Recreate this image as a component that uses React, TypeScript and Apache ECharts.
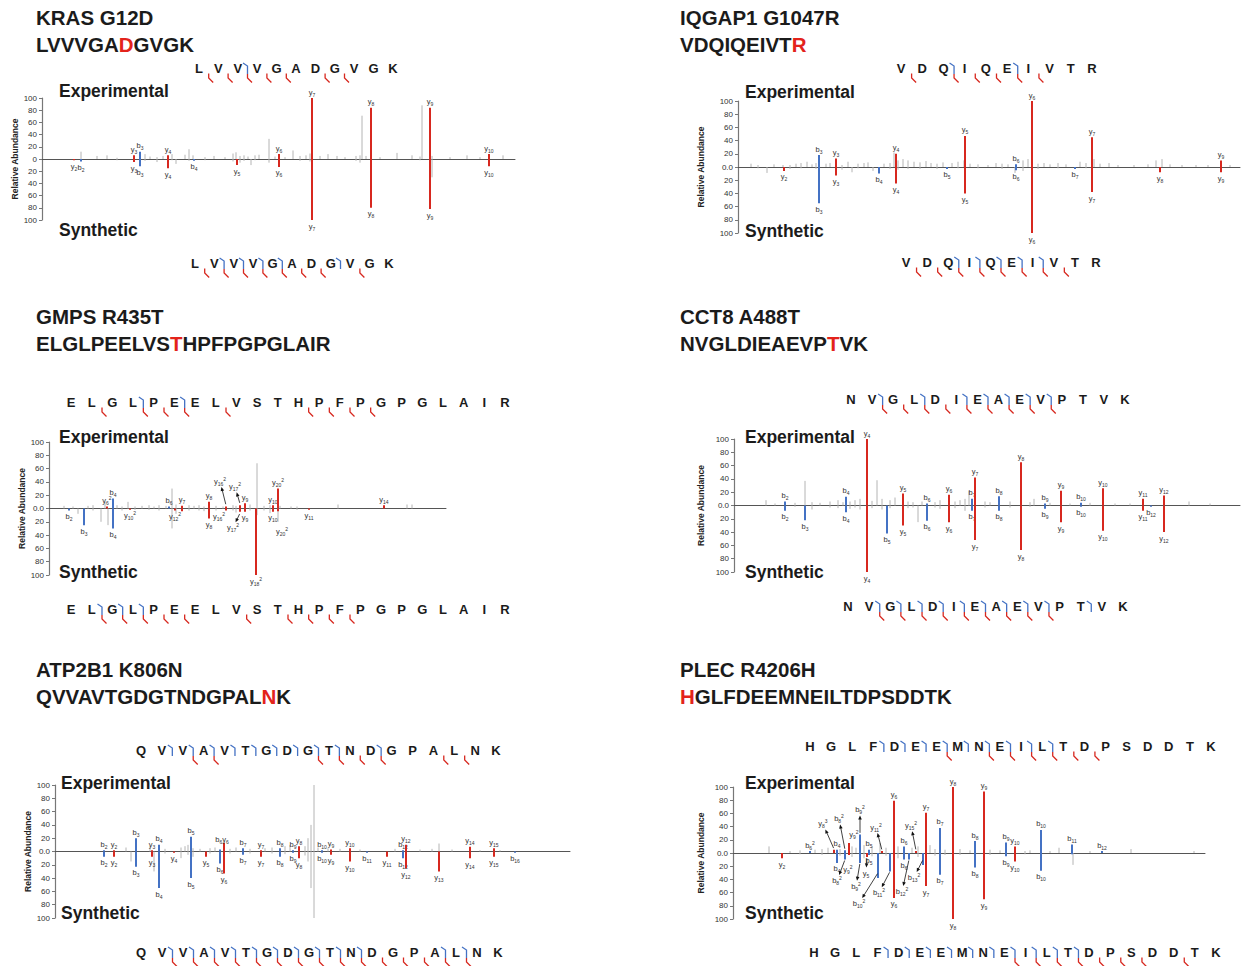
import React, { useEffect, useRef } from 'react';
import * as echarts from 'echarts';

const FONT = '"Liberation Sans", Arial, Helvetica, sans-serif';
const RED = '#d7281f';
const BLUE = '#4472c4';
const GREY = '#b4b4b4';
const INK = '#1b1b1b';

// ---------------- data ----------------
// ions: [position, experimental %, synthetic %, label, labelFlags(1 exp,2 syn,3 both,0 none)]
// noise: [position, experimental %, synthetic %]
// callouts: [labelPos, labelValue, tipPos, tipValue, label, arrow]

const krasTitle = 'KRAS G12D';
const krasPeptide = 'LVVVGADGVGK';
const krasMut = 6;
const krasExpB = [3];
const krasExpY = [1, 2, 3, 4, 5, 7, 8];
const krasSynB = [2, 3, 4, 5, 8];
const krasSynY = [1, 2, 3, 4, 5, 6, 7, 9];
const krasIons = [
  [32, 0, 2, 'y2', 2], [39, 0, 4, 'b2', 2], [92, 6, 5, 'y3', 3], [98, 12, 12, 'b3', 3],
  [126, 6, 15, 'y4', 3], [152, 0, 3, 'b4', 2], [195, 0, 10, 'y5', 2], [237, 8, 13, 'y6', 3],
  [270, 100, 100, 'y7', 3], [329, 84, 80, 'y8', 3], [388, 84, 82, 'y9', 3], [447, 8, 12, 'y10', 3],
];
const krasNoise = [
  [39, 12, 0], [55, 5, 0], [65, 6, 0], [75, 2, 2], [103, 8, 3], [108, 4, 0], [115, 3, 5], [121, 5, 0],
  [130, 8, 2], [134, 0, 8], [143, 7, 0], [147, 16, 3], [151, 6, 0], [163, 3, 2], [172, 5, 0], [183, 3, 0],
  [191, 9, 4], [194, 11, 0], [198, 5, 6], [202, 6, 3], [206, 4, 0], [209, 0, 10], [213, 6, 2], [217, 7, 0],
  [227, 33, 6], [233, 4, 0], [243, 3, 0], [251, 14, 0], [258, 5, 3], [264, 6, 0], [268, 9, 4], [278, 5, 0],
  [286, 8, 0], [295, 5, 0], [303, 3, 0], [314, 5, 3], [318, 6, 6], [320, 71, 0], [324, 5, 0], [329, 20, 10],
  [338, 3, 0], [355, 10, 0], [370, 6, 0], [378, 4, 2], [380, 88, 0], [390, 5, 30], [408, 3, 0], [425, 6, 0],
  [438, 3, 0], [461, 6, 0],
];
const krasCallouts: any[] = [];

const iqTitle = 'IQGAP1 G1047R';
const iqPeptide = 'VDQIQEIVTR';
const iqMut = 9;
const iqExpB = [3, 6];
const iqExpY = [1, 3, 4, 5, 6, 7];
const iqSynB = [3, 4, 5, 6, 7];
const iqSynY = [1, 2, 3, 4, 5, 6, 7, 8];
const iqIons = [
  [46, 0, 6, 'y2', 2], [81, 18, 55, 'b3', 3], [98, 13, 13, 'y3', 3], [141, 0, 10, 'b4', 2],
  [158, 20, 25, 'y4', 3], [209, 0, 3, 'b5', 2], [227, 47, 40, 'y5', 3], [278, 4, 5, 'b6', 3],
  [294, 100, 100, 'y6', 3], [337, 0, 3, 'b7', 2], [354, 45, 38, 'y7', 3], [422, 0, 8, 'y8', 2],
  [483, 10, 8, 'y9', 3],
];
const iqNoise = [
  [13, 5, 0], [20, 3, 2], [29, 0, 9], [36, 4, 0], [45, 3, 0], [52, 3, 3], [58, 5, 0], [63, 6, 2],
  [69, 8, 0], [74, 4, 0], [78, 6, 3], [88, 5, 0], [92, 6, 0], [104, 3, 4], [110, 8, 0], [114, 0, 8],
  [120, 5, 2], [126, 6, 0], [130, 7, 0], [135, 0, 6], [146, 5, 0], [152, 6, 3], [156, 22, 0], [160, 10, 4],
  [165, 12, 0], [170, 10, 3], [176, 8, 0], [182, 7, 3], [188, 9, 0], [193, 6, 0], [199, 5, 3], [205, 7, 0],
  [214, 6, 0], [220, 8, 2], [226, 10, 0], [232, 5, 0], [240, 4, 2], [250, 3, 0], [258, 6, 0], [264, 5, 3],
  [270, 4, 0], [277, 0, 9], [285, 10, 6], [290, 12, 0], [300, 5, 3], [306, 6, 0], [312, 4, 0], [320, 6, 2],
  [328, 4, 0], [342, 8, 0], [348, 6, 2], [356, 12, 0], [362, 5, 0], [371, 6, 0], [380, 3, 0], [396, 3, 0],
  [410, 4, 0], [418, 10, 0], [424, 12, 0], [432, 4, 0], [444, 3, 0], [458, 3, 0], [470, 3, 0], [492, 3, 0],
];
const iqCallouts: any[] = [];

const gmpsTitle = 'GMPS R435T';
const gmpsPeptide = 'ELGLPEELVSTHPFPGPGLAIR';
const gmpsMut = 10;
const gmpsExpB = [4, 6];
const gmpsExpY = [2, 4, 5, 6, 8, 12, 13, 14, 15];
const gmpsSynB = [2, 3, 4];
const gmpsSynY = [2, 3, 4, 5, 6, 9, 11, 12, 13, 14];
const gmpsIons = [
  [20, 0, 3, 'b2', 2], [35, 0, 25, 'b3', 2], [58, 3, 0, 'y6^2', 1], [64, 15, 30, 'b4', 3],
  [81, 0, 2, 'y10^2', 2], [120, 3, 0, 'b6', 1], [126, 0, 3, 'y12^2', 2], [133, 4, 4, 'y7', 1],
  [160, 10, 15, 'y8', 3], [177, 3, 3, 'y16^2', 0], [191, 5, 5, 'y17^2', 0], [196, 8, 5, 'y9', 3],
  [207, 0, 100, 'y18^2', 2], [224, 5, 5, 'y10', 3], [229, 30, 4, 'y20^2', 1], [260, 0, 2, 'y11', 2],
  [335, 5, 0, 'y14', 1],
];
const gmpsNoise = [
  [15, 4, 0], [24, 3, 0], [29, 0, 8], [39, 4, 0], [44, 5, 3], [52, 0, 20], [56, 10, 0], [59, 0, 25],
  [68, 5, 0], [73, 3, 3], [79, 10, 0], [86, 3, 2], [93, 4, 0], [100, 5, 2], [105, 3, 0], [110, 5, 3],
  [117, 4, 0], [123, 30, 30], [127, 6, 8], [140, 5, 3], [145, 4, 0], [150, 5, 3], [155, 3, 4], [167, 4, 3],
  [174, 3, 0], [184, 5, 3], [187, 4, 6], [201, 6, 3], [208, 68, 10], [215, 4, 3], [221, 5, 7], [229, 4, 20],
  [231, 4, 0], [242, 3, 0], [248, 3, 2], [289, 6, 0], [358, 6, 0], [363, 6, 0],
];
const gmpsCallouts = [
  [171, 41, 177, 5, 'y16^2', 1], [186, 33, 191, 7, 'y17^2', 1], [170, -12, 177, -4, 'y16^2', 0],
  [184, -29, 191, -7, 'y17^2', 1], [233, -34, 229, -5, 'y20^2', 0],
];

const cctTitle = 'CCT8 A488T';
const cctPeptide = 'NVGLDIEAEVPTVK';
const cctMut = 11;
const cctExpB = [2, 4, 6, 7, 8, 9, 10];
const cctExpY = [2, 3, 4, 5, 6, 7, 8, 9, 10];
const cctSynB = [2, 3, 4, 5, 6, 7, 8, 9, 10, 12];
const cctSynY = [2, 3, 4, 5, 6, 7, 8, 9, 10];
const cctIons = [
  [51, 6, 8, 'b2', 3], [71, 0, 22, 'b3', 2], [112, 13, 10, 'b4', 3], [133, 100, 100, 'y4', 3],
  [153, 0, 42, 'b5', 2], [169, 18, 30, 'y5', 3], [193, 3, 23, 'b6', 3], [215, 16, 25, 'y6', 3],
  [238, 10, 8, 'b7', 3], [241, 42, 52, 'y7', 3], [265, 14, 8, 'b8', 3], [287, 65, 67, 'y8', 3],
  [311, 3, 5, 'b9', 3], [327, 22, 25, 'y9', 3], [347, 4, 2, 'b10', 3], [369, 26, 38, 'y10', 3],
  [409, 10, 8, 'y11', 3], [417, 0, 2, 'b12', 2], [430, 15, 40, 'y12', 3],
];
const cctNoise = [
  [32, 8, 0], [41, 3, 0], [61, 4, 2], [71, 37, 0], [78, 5, 6], [86, 4, 0], [96, 6, 3], [104, 8, 4],
  [109, 5, 0], [116, 6, 5], [121, 8, 3], [126, 10, 6], [138, 7, 4], [143, 38, 0], [148, 10, 6], [156, 8, 4],
  [161, 12, 0], [174, 6, 4], [179, 5, 3], [184, 0, 25], [188, 6, 0], [201, 5, 3], [206, 8, 5], [221, 6, 4],
  [226, 8, 0], [231, 10, 8], [235, 22, 0], [251, 6, 3], [256, 5, 0], [276, 6, 3], [296, 5, 2], [300, 10, 0],
  [316, 4, 0], [336, 3, 0], [356, 4, 0], [381, 3, 0], [396, 3, 0], [455, 6, 0], [476, 3, 0],
];
const cctCallouts: any[] = [];

const atpTitle = 'ATP2B1 K806N';
const atpPeptide = 'QVVAVTGDGTNDGPALNK';
const atpMut = 16;
const atpExpB = [2, 3, 4, 5, 6, 7, 8, 9, 10, 12];
const atpExpY = [3, 4, 9, 10, 11, 12, 15, 16];
const atpSynB = [2, 3, 4, 5, 6, 7, 8, 9, 10, 11, 15, 16];
const atpSynY = [2, 3, 4, 5, 6, 7, 8, 9, 10, 11, 12, 13, 14, 15, 16];
const atpIons = [
  [49, 2, 8, 'b2', 3], [59, 2, 8, 'y2', 3], [81, 20, 23, 'b3', 3], [97, 2, 8, 'y3', 3],
  [104, 10, 55, 'b4', 3], [119, 0, 2, 'y4', 2], [136, 22, 40, 'b5', 3], [151, 0, 8, 'y5', 2],
  [165, 3, 18, 'b6', 2], [169, 13, 33, 'y6', 2], [188, 5, 5, 'b7', 3], [206, 2, 8, 'y7', 3],
  [225, 5, 8, 'b8', 3], [238, 2, 2, 'b9', 3], [244, 8, 10, 'y8', 3], [267, 2, 2, 'b10', 3],
  [276, 3, 5, 'y9', 3], [295, 5, 15, 'y10', 3], [312, 0, 2, 'b11', 2], [332, 0, 8, 'y11', 2],
  [348, 2, 10, 'b12', 3], [351, 10, 25, 'y12', 3], [384, 0, 30, 'y13', 2], [415, 7, 10, 'y14', 3],
  [439, 5, 8, 'y15', 3], [460, 0, 2, 'b16', 2],
];
const atpNoise = [
  [71, 6, 0], [76, 0, 15], [95, 8, 0], [99, 0, 30], [110, 4, 3], [126, 6, 10], [130, 8, 0], [133, 10, 5],
  [138, 5, 8], [145, 4, 0], [155, 5, 3], [160, 6, 0], [175, 4, 3], [181, 6, 0], [195, 4, 3], [210, 5, 0],
  [217, 6, 3], [230, 8, 4], [235, 10, 0], [250, 8, 6], [253, 20, 15], [256, 40, 55], [259, 100, 100],
  [263, 6, 0], [273, 5, 0], [285, 4, 0], [305, 3, 0], [340, 4, 0], [365, 3, 0], [377, 4, 0], [384, 12, 0],
  [397, 3, 0], [425, 2, 0], [445, 2, 0],
];
const atpCallouts = [[167, 18, 167, 13, 'b6y6', 0]];

const plecTitle = 'PLEC R4206H';
const plecPeptide = 'HGLFDEEMNEILTDPSDDTK';
const plecMut = 0;
const plecExpB = [4, 5, 6, 7, 8, 9, 10, 11, 12];
const plecExpY = [7, 9, 10, 11, 12, 13, 14];
const plecSynB = [4, 5, 6, 7, 8, 9, 10, 11, 12, 13];
const plecSynY = [10, 11, 12, 13, 14, 15, 16, 18];
const plecIons = [
  [49, 0, 8, 'y2', 2], [77, 3, 0, 'b6^2', 1], [101, 5, 0, 'y8^3', 0], [104, 5, 15, 'b4', 3],
  [112, 4, 10, 'b8^2', 0], [116, 15, 3, 'y9^2', 0], [127, 28, 15, 'b9^2', 0], [134, 0, 6, 'y5', 0],
  [136, 5, 3, 'b5', 3], [145, 0, 38, 'b10^2', 0], [149, 3, 0, 'y11^2', 0], [157, 0, 28, 'b11^2', 0],
  [161, 79, 68, 'y6', 3], [171, 10, 10, 'b6', 3], [176, 0, 10, 'b12^2', 0], [183, 3, 0, 'y15^2', 0],
  [190, 0, 18, 'b13^2', 0], [193, 61, 50, 'y7', 3], [207, 38, 33, 'b7', 3], [220, 100, 100, 'y8', 3],
  [242, 18, 22, 'b8', 3], [251, 93, 70, 'y9', 3], [273, 16, 5, 'b9', 3], [282, 10, 13, 'y10', 3],
  [308, 35, 27, 'b10', 3], [339, 13, 2, 'b11', 1], [369, 3, 0, 'b12', 1],
];
const plecNoise = [
  [36, 10, 0], [57, 3, 0], [67, 4, 2], [82, 5, 0], [89, 6, 3], [95, 8, 0], [107, 6, 4], [119, 10, 6],
  [123, 8, 0], [131, 12, 8], [139, 10, 5], [147, 15, 0], [153, 8, 4], [165, 10, 8], [179, 8, 0], [185, 10, 6],
  [197, 12, 0], [202, 6, 4], [212, 5, 3], [227, 6, 3], [237, 4, 0], [257, 5, 3], [267, 4, 0], [292, 3, 2],
  [297, 4, 0], [317, 3, 0], [326, 8, 0], [340, 0, 18], [357, 3, 0], [398, 6, 0], [461, 3, 0],
];
const plecCallouts = [
  [90, 44, 101, 6, 'y8^3', 1], [106, 52, 112, 5, 'b8^2', 1], [127, 66, 127, 29, 'b9^2', 1],
  [121, 28, 116, 15, 'y9^2', 0], [143, 39, 149, 4, 'y11^2', 1], [178, 42, 183, 4, 'y15^2', 1],
  [104, -42, 112, -10, 'b8^2', 1], [115, -25, 116, -4, 'y9^2', 0], [133, -31, 134, -7, 'y5', 1],
  [123, -51, 127, -15, 'b9^2', 1], [126, -76, 145, -30, 'b10^2', 1], [146, -60, 157, -28, 'b11^2', 1],
  [169, -59, 176, -10, 'b12^2', 1], [181, -37, 190, -10, 'b13^2', 1],
];

const PANELS = [
  { title: krasTitle, peptide: krasPeptide, mut: krasMut, expB: krasExpB, expY: krasExpY, synB: krasSynB, synY: krasSynY, ions: krasIons, noise: krasNoise, callouts: krasCallouts },
  { title: iqTitle, peptide: iqPeptide, mut: iqMut, expB: iqExpB, expY: iqExpY, synB: iqSynB, synY: iqSynY, ions: iqIons, noise: iqNoise, callouts: iqCallouts },
  { title: gmpsTitle, peptide: gmpsPeptide, mut: gmpsMut, expB: gmpsExpB, expY: gmpsExpY, synB: gmpsSynB, synY: gmpsSynY, ions: gmpsIons, noise: gmpsNoise, callouts: gmpsCallouts },
  { title: cctTitle, peptide: cctPeptide, mut: cctMut, expB: cctExpB, expY: cctExpY, synB: cctSynB, synY: cctSynY, ions: cctIons, noise: cctNoise, callouts: cctCallouts },
  { title: atpTitle, peptide: atpPeptide, mut: atpMut, expB: atpExpB, expY: atpExpY, synB: atpSynB, synY: atpSynY, ions: atpIons, noise: atpNoise, callouts: atpCallouts },
  { title: plecTitle, peptide: plecPeptide, mut: plecMut, expB: plecExpB, expY: plecExpY, synB: plecSynB, synY: plecSynY, ions: plecIons, noise: plecNoise, callouts: plecCallouts },
];

// ---------------- layout ----------------
const LAYOUT = [
  { tx: 36, ty: 17, ax: 42, end: 515, top: 98, bot: 220, nameGap: 21, lx: 59, ey: 91, sy: 230, zero: '0', seqTop: [199, 393, 68], seqBot: [195, 389, 263] },
  { tx: 680, ty: 17, ax: 738, end: 1240, top: 101, bot: 233, nameGap: 33, lx: 745, ey: 92, sy: 231, zero: '0.0', seqTop: [901, 1092, 68], seqBot: [906, 1096, 262] },
  { tx: 36, ty: 316, ax: 49, end: 446, top: 442, bot: 575, nameGap: 16, lx: 59, ey: 437, sy: 572, zero: '0.0', seqTop: [71, 505, 402], seqBot: [71, 505, 609] },
  { tx: 680, ty: 316, ax: 734, end: 1240, top: 439, bot: 572, nameGap: 29, lx: 745, ey: 437, sy: 572, zero: '0.0', seqTop: [851, 1125, 399], seqBot: [848, 1123, 606] },
  { tx: 36, ty: 669, ax: 55, end: 570, top: 785, bot: 918, nameGap: 22, lx: 61, ey: 783, sy: 913, zero: '0.0', seqTop: [141, 496, 750], seqBot: [141, 498, 952] },
  { tx: 680, ty: 669, ax: 733, end: 1205, top: 787, bot: 919, nameGap: 28, lx: 745, ey: 783, sy: 913, zero: '0.0', seqTop: [810, 1211, 746], seqBot: [814, 1216, 952] },
];

const LABEL_RICH = {
  i: { fontSize: 7.5, fontFamily: FONT, fill: '#333', lineHeight: 10 },
  s: { fontSize: 5, fontFamily: FONT, fill: '#333', lineHeight: 6, verticalAlign: 'bottom' },
  p: { fontSize: 5, fontFamily: FONT, fill: '#333', lineHeight: 6, verticalAlign: 'top' },
};

function richIon(label: string): string {
  const toks = label.match(/[by]\d+(\^\d)?/g) || [];
  return toks
    .map((t) => {
      const m = t.match(/([by])(\d+)(?:\^(\d))?/)!;
      return `{i|${m[1]}}{s|${m[2]}}` + (m[3] ? `{p|${m[3]}}` : '');
    })
    .join('');
}

function titleRich(pep: string, mut: number): string {
  const a = pep.slice(0, mut);
  const c = pep.slice(mut + 1);
  return (a ? `{n|${a}}` : '') + `{r|${pep[mut]}}` + (c ? `{n|${c}}` : '');
}

function labelEl(x: number, y: number, label: string, va: string) {
  return {
    type: 'text',
    x,
    y,
    style: { text: richIon(label), rich: LABEL_RICH, align: 'center', verticalAlign: va, fill: '#333' },
  };
}

function App() {
  const ref = useRef<HTMLDivElement>(null);
  useEffect(() => {
    if (!ref.current) return;
    const chart = echarts.init(ref.current, null, { renderer: 'svg' });
    const grid: any[] = [];
    const xAxis: any[] = [];
    const yAxis: any[] = [];
    const series: any[] = [];
    const graphic: any[] = [];

    PANELS.forEach((p, pi) => {
      const L = LAYOUT[pi];
      // titles
      graphic.push({
        type: 'text', x: L.tx, y: L.ty,
        style: { text: p.title, fontFamily: FONT, fontWeight: 'bold', fontSize: 20.5, fill: INK, align: 'left', verticalAlign: 'middle' },
      });
      graphic.push({
        type: 'text', x: L.tx, y: L.ty + 27,
        style: {
          text: titleRich(p.peptide, p.mut), align: 'left', verticalAlign: 'middle',
          rich: {
            n: { fontFamily: FONT, fontWeight: 'bold', fontSize: 20.5, fill: INK },
            r: { fontFamily: FONT, fontWeight: 'bold', fontSize: 20.5, fill: '#e3231b' },
          },
        },
      });
      graphic.push({
        type: 'text', x: L.lx, y: L.ey,
        style: { text: 'Experimental', fontFamily: FONT, fontWeight: 'bold', fontSize: 17.5, fill: INK, align: 'left', verticalAlign: 'middle' },
      });
      graphic.push({
        type: 'text', x: L.lx, y: L.sy,
        style: { text: 'Synthetic', fontFamily: FONT, fontWeight: 'bold', fontSize: 17.5, fill: INK, align: 'left', verticalAlign: 'middle' },
      });

      // spectrum grid
      const gi = grid.length;
      grid.push({ left: L.ax, top: L.top, width: L.end - L.ax, height: L.bot - L.top });
      xAxis.push({
        gridIndex: gi, type: 'value', min: 0, max: L.end - L.ax,
        axisLine: { show: true, onZero: true, lineStyle: { color: '#555', width: 1 } },
        axisTick: { show: false }, axisLabel: { show: false }, splitLine: { show: false },
      });
      yAxis.push({
        gridIndex: gi, type: 'value', min: -100, max: 100, interval: 20,
        name: 'Relative Abundance', nameLocation: 'middle', nameRotate: 90, nameGap: L.nameGap,
        nameTextStyle: { fontFamily: FONT, fontWeight: 'bold', fontSize: 8.5, color: '#222' },
        axisLine: { show: true, lineStyle: { color: '#777', width: 1.2 } },
        axisTick: { show: true, length: 3, lineStyle: { color: '#777' } },
        axisLabel: {
          fontFamily: FONT, fontSize: 8, color: '#333', margin: 5,
          formatter: (v: number) => (v === 0 ? L.zero : String(Math.abs(v))),
        },
        splitLine: { show: false },
      });
      const items = [
        ...p.noise.map((n: any) => ({ pos: n[0], exp: n[1], syn: n[2], kind: 0, label: '', flags: 0 })),
        ...p.ions.map((n: any) => ({ pos: n[0], exp: n[1], syn: n[2], kind: String(n[3])[0] === 'b' ? 1 : 2, label: n[3], flags: n[4] })),
      ];
      series.push({
        type: 'custom', xAxisIndex: gi, yAxisIndex: gi, silent: true, clip: false,
        data: items.map((it) => [it.pos, it.exp]), encode: { x: 0, y: 1 },
        renderItem: (params: any, api: any) => {
          const it = items[params.dataIndex];
          const base = api.coord([it.pos, 0]);
          const color = it.kind === 0 ? GREY : it.kind === 1 ? BLUE : RED;
          const lw = it.kind === 0 ? 1 : 2;
          const children: any[] = [];
          if (it.exp > 0) {
            const t = api.coord([it.pos, it.exp]);
            children.push({ type: 'line', shape: { x1: base[0], y1: base[1], x2: t[0], y2: t[1] }, style: { stroke: color, lineWidth: lw } });
            if (it.flags & 1) children.push(labelEl(t[0], t[1] - 1, it.label, 'bottom'));
          }
          if (it.syn > 0) {
            const t = api.coord([it.pos, -it.syn]);
            children.push({ type: 'line', shape: { x1: base[0], y1: base[1], x2: t[0], y2: t[1] }, style: { stroke: color, lineWidth: lw } });
            if (it.flags & 2) children.push(labelEl(t[0], t[1] + 1, it.label, 'top'));
          }
          return { type: 'group', children };
        },
      });
      if (p.callouts.length) {
        const cs = p.callouts;
        series.push({
          type: 'custom', xAxisIndex: gi, yAxisIndex: gi, silent: true, clip: false,
          data: cs.map((c: any) => [c[0], c[1]]), encode: { x: 0, y: 1 },
          renderItem: (params: any, api: any) => {
            const c = cs[params.dataIndex];
            const lp = api.coord([c[0], c[1]]);
            const tp = api.coord([c[2], c[3]]);
            const children: any[] = [labelEl(lp[0], lp[1], c[4], 'middle')];
            if (c[5]) {
              const dx = tp[0] - lp[0];
              const dy = tp[1] - lp[1];
              const len = Math.sqrt(dx * dx + dy * dy) || 1;
              const ux = dx / len;
              const uy = dy / len;
              const sx = lp[0] + ux * 6;
              const sy = lp[1] + uy * 6;
              const ex = tp[0] - ux * 1;
              const ey = tp[1] - uy * 1;
              children.push({ type: 'line', shape: { x1: sx + ux * 3, y1: sy + uy * 3, x2: ex, y2: ey }, style: { stroke: '#111', lineWidth: 0.8 } });
              children.push({
                type: 'polygon',
                shape: { points: [[sx, sy], [sx + ux * 4 - uy * 1.8, sy + uy * 4 + ux * 1.8], [sx + ux * 4 + uy * 1.8, sy + uy * 4 - ux * 1.8]] },
                style: { fill: '#111' },
              });
            }
            return { type: 'group', children };
          },
        });
      }

      // sequence rows
      const rows = [
        { geo: L.seqTop, b: p.expB, y: p.expY },
        { geo: L.seqBot, b: p.synB, y: p.synY },
      ];
      rows.forEach((r) => {
        const n = p.peptide.length;
        const step = (r.geo[1] - r.geo[0]) / (n - 1);
        const si = grid.length;
        grid.push({ left: r.geo[0] - step / 2, top: r.geo[2] - 10, width: step * n, height: 20 });
        xAxis.push({ gridIndex: si, type: 'value', min: 0, max: n, show: false });
        yAxis.push({ gridIndex: si, type: 'value', min: -1, max: 1, show: false });
        const letters = p.peptide.split('');
        series.push({
          type: 'custom', xAxisIndex: si, yAxisIndex: si, silent: true, clip: false,
          data: letters.map((_, i) => [i + 0.5, 0]), encode: { x: 0, y: 1 },
          renderItem: (params: any, api: any) => {
            const i = params.dataIndex;
            const c = api.coord([i + 0.5, 0]);
            const cy = c[1];
            const children: any[] = [
              {
                type: 'text', x: c[0], y: cy,
                style: { text: letters[i], fontFamily: FONT, fontWeight: 'bold', fontSize: 13, fill: INK, align: 'center', verticalAlign: 'middle' },
              },
            ];
            const k = i + 1;
            if (k < n) {
              const sx = api.coord([k, 0])[0];
              const hasB = r.b.includes(k);
              const hasY = r.y.includes(k);
              if (hasB) {
                children.push({
                  type: 'polyline',
                  shape: { points: [[sx - 4.5, cy - 5], [sx, cy - 2], [sx, cy + 6]] },
                  style: { stroke: BLUE, lineWidth: 1.3, fill: 'none' },
                });
              }
              if (hasY) {
                children.push({
                  type: 'polyline',
                  shape: { points: [[sx, cy + (hasB ? 6 : 5.5)], [sx, cy + 10], [sx + 4.5, cy + 14.5]] },
                  style: { stroke: RED, lineWidth: 1.3, fill: 'none' },
                });
              }
            }
            return { type: 'group', children };
          },
        });
      });
    });

    chart.setOption({
      animation: false,
      backgroundColor: '#ffffff',
      grid,
      xAxis,
      yAxis,
      series,
      graphic,
    });
    return () => chart.dispose();
  }, []);
  return <div ref={ref} style={{ position: 'absolute', left: 0, top: 0, width: 1251, height: 966 }} />;
}

export default App;
